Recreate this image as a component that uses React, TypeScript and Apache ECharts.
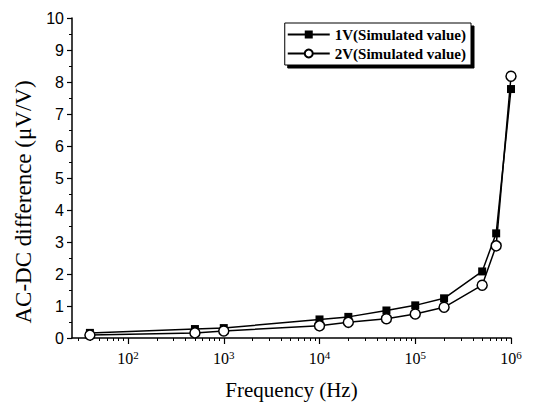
import React, { useEffect, useRef } from "react";
import * as echarts from "echarts";

// Data
const frequencies = [40, 500, 1000, 1e4, 2e4, 5e4, 1e5, 2e5, 5e5, 7e5, 1e6];
const values1V = [0.16, 0.28, 0.31, 0.58, 0.66, 0.86, 1.02, 1.24, 2.08, 3.27, 7.78];
const values2V = [0.09, 0.16, 0.22, 0.38, 0.49, 0.6, 0.75, 0.96, 1.65, 2.88, 8.18];
const seriesNames = ["1V(Simulated value)", "2V(Simulated value)"];
const xMajorTicks = [100, 1e3, 1e4, 1e5, 1e6];
const xMinorTicks: number[] = [];
for (let p = 1; p <= 5; p++) {
  for (let k = 2; k <= 9; k++) xMinorTicks.push(k * Math.pow(10, p));
}
const xMin = 26;
const xMax = 1e6;

const serif = "Liberation Serif";
const sans = "Liberation Sans";

export default function App() {
  const ref = useRef<HTMLDivElement>(null);
  useEffect(() => {
    if (!ref.current) return;
    const chart = echarts.init(ref.current, null, { renderer: "svg" });
    const axisLine = { show: true, lineStyle: { color: "#000", width: 1.5 } };
    chart.setOption({
      animation: false,
      backgroundColor: "#fff",
      grid: { left: 72, right: 24, top: 18, bottom: 65 },
      legend: {
        right: 64,
        top: 23,
        orient: "vertical",
        itemWidth: 42,
        itemHeight: 10,
        itemGap: 4,
        padding: [4, 5, 4, 2],
        backgroundColor: "#fff",
        borderColor: "#000",
        borderWidth: 1,
        shadowColor: "#000",
        shadowOffsetX: 3,
        shadowOffsetY: 3,
        shadowBlur: 0,
        textStyle: { fontFamily: serif, fontSize: 15, fontWeight: "bold", color: "#000" },
        data: seriesNames,
      },
      xAxis: [
        {
          type: "log",
          min: xMin,
          max: xMax,
          position: "bottom",
          axisLine,
          splitLine: { show: false },
          axisTick: {
            customValues: xMajorTicks,
            length: 6,
            lineStyle: { color: "#000", width: 1.2 },
          },
          axisLabel: {
            customValues: xMajorTicks,
            margin: 11,
            formatter: (v: number) => `{b|10}{s|${Math.round(Math.log10(v))}}`,
            rich: {
              b: { fontFamily: serif, fontSize: 16, color: "#000" },
              s: {
                fontFamily: serif,
                fontSize: 11,
                color: "#000",
                verticalAlign: "bottom",
                padding: [0, 0, 8, 0],
              },
            },
          },
          name: "Frequency (Hz)",
          nameLocation: "middle",
          nameGap: 41,
          nameTextStyle: { fontFamily: serif, fontSize: 21, color: "#000" },
        },
        {
          type: "log",
          min: xMin,
          max: xMax,
          position: "bottom",
          offset: 0,
          axisLine: { show: false },
          splitLine: { show: false },
          axisLabel: { show: false },
          axisTick: {
            customValues: xMinorTicks,
            length: 3,
            lineStyle: { color: "#000", width: 1 },
          },
        },
      ],
      yAxis: {
        type: "value",
        min: 0,
        max: 10,
        interval: 1,
        axisLine,
        splitLine: { show: false },
        axisTick: { show: true, length: 5, lineStyle: { color: "#000", width: 1.2 } },
        minorTick: { show: true, splitNumber: 2, length: 3, lineStyle: { color: "#000", width: 1 } },
        axisLabel: { fontFamily: sans, fontSize: 16, color: "#000", margin: 8 },
        name: "AC-DC difference (\u03bcV/V)",
        nameLocation: "middle",
        nameGap: 36,
        nameTextStyle: { fontFamily: serif, fontSize: 23, color: "#000", padding: [0, 48, 0, 0] },
      },
      series: [
        {
          name: seriesNames[0],
          type: "line",
          xAxisIndex: 0,
          data: frequencies.map((f, i) => [f, values1V[i]]),
          symbol: "rect",
          symbolSize: 8,
          itemStyle: { color: "#000" },
          lineStyle: { color: "#000", width: 1.5 },
        },
        {
          name: seriesNames[1],
          type: "line",
          xAxisIndex: 0,
          data: frequencies.map((f, i) => [f, values2V[i]]),
          symbol: "circle",
          symbolSize: 10,
          itemStyle: { color: "#fff", borderColor: "#000", borderWidth: 1.5 },
          lineStyle: { color: "#000", width: 1.5 },
        },
      ],
    });
    return () => chart.dispose();
  }, []);
  return (
    <div
      ref={ref}
      style={{ position: "fixed", left: 0, top: 0, width: 535, height: 405, background: "#fff" }}
    />
  );
}
